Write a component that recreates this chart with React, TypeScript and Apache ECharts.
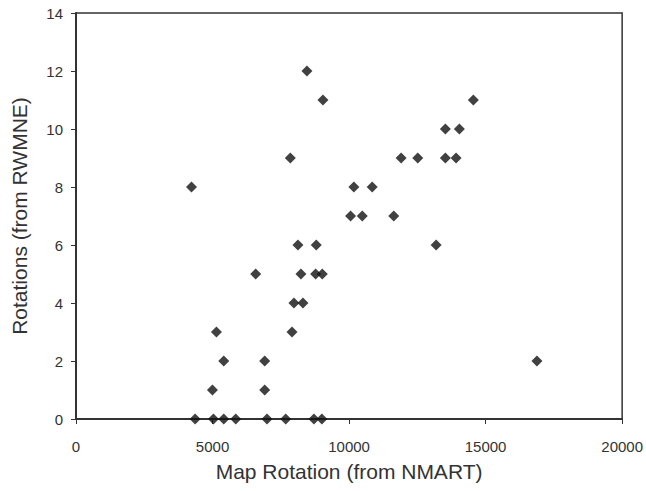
import React, { useEffect, useRef } from "react";
import * as echarts from "echarts";

const mapRotation: number[] = [
  4230, 8457, 9042, 7849, 8128, 8799,
  14551, 13527, 14039, 11907, 12515, 13527, 13918,
  10175, 10846, 10054, 10482, 11637, 13187, 16880,
  6581, 8238, 8775, 9019, 7982, 8311, 5143, 7909,
  5411, 6910, 4997, 6910,
  4363, 5034, 5411, 5850, 6995, 7680, 8713, 9005,
];
const rotations: number[] = [
  8, 12, 11, 9, 6, 6,
  11, 10, 10, 9, 9, 9, 9,
  8, 8, 7, 7, 7, 6, 2,
  5, 5, 5, 5, 4, 4, 3, 3,
  2, 2, 1, 1,
  0, 0, 0, 0, 0, 0, 0, 0,
];

const xTitle = "Map Rotation (from NMART)";
const yTitle = "Rotations (from RWMNE)";

export default function App() {
  const ref = useRef<HTMLDivElement>(null);
  useEffect(() => {
    if (!ref.current) return;
    const chart = echarts.init(ref.current, null, { renderer: "svg" });
    const data = mapRotation.map((x, i) => [x, rotations[i]]);
    const font = "Liberation Sans, Arial, sans-serif";
    chart.setOption({
      animation: false,
      backgroundColor: "#ffffff",
      grid: {
        left: 76,
        right: 23,
        top: 13,
        bottom: 72,
        show: true,
        borderColor: "#333",
        borderWidth: 1.5,
      },
      xAxis: {
        type: "value",
        min: 0,
        max: 20000,
        interval: 5000,
        name: xTitle,
        nameLocation: "middle",
        nameGap: 42,
        nameTextStyle: { fontSize: 21, color: "#333", fontFamily: font },
        axisLine: { show: true, onZero: false, lineStyle: { color: "#333", width: 2 } },
        axisTick: { show: true, length: 5, lineStyle: { color: "#333", width: 1 } },
        axisLabel: {
          fontSize: 15,
          color: "#333",
          fontFamily: font,
          margin: 20,
          formatter: (v: number) => String(v),
        },
        splitLine: { show: false },
      },
      yAxis: {
        type: "value",
        min: 0,
        max: 14,
        interval: 2,
        name: yTitle,
        nameLocation: "middle",
        nameGap: 46,
        nameTextStyle: { fontSize: 21, color: "#333", fontFamily: font },
        axisLine: { show: true, onZero: false, lineStyle: { color: "#333", width: 2 } },
        axisTick: { show: true, length: 5, lineStyle: { color: "#333", width: 1 } },
        axisLabel: { fontSize: 15, color: "#333", fontFamily: font, margin: 13 },
        splitLine: { show: false },
      },
      series: [
        {
          type: "scatter",
          data,
          symbol: "diamond",
          symbolSize: 11,
          itemStyle: { color: "#111" },
        },
      ],
    });
    return () => chart.dispose();
  }, []);
  return <div ref={ref} style={{ width: 646, height: 491, position: "absolute", left: 0, top: 0 }} />;
}
